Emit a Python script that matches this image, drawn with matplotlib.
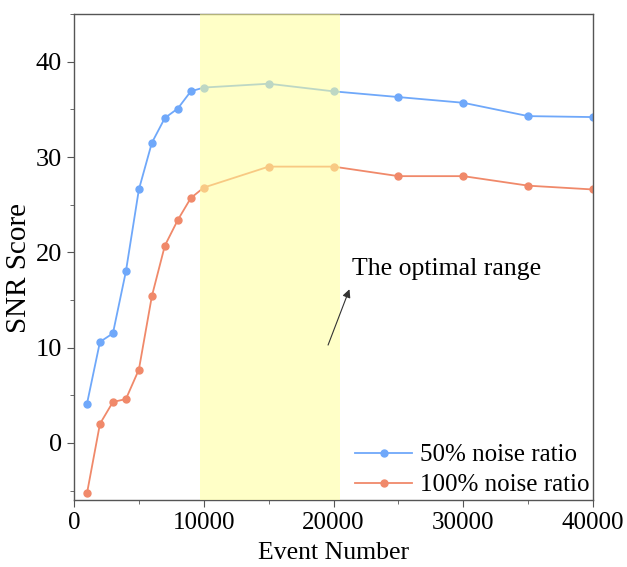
import matplotlib
matplotlib.use("Agg")
import matplotlib.pyplot as plt
from matplotlib.ticker import MultipleLocator

plt.rcParams['font.family'] = ['Liberation Serif', 'DejaVu Serif']

# Event counts and SNR scores
events = [1000, 2000, 3000, 4000, 5000, 6000, 7000, 8000, 9000,
          10000, 15000, 20000, 25000, 30000, 35000, 40000]
snr_50 = [4.1, 10.6, 11.5, 18.0, 26.6, 31.5, 34.1, 35.1, 36.9,
          37.3, 37.7, 36.9, 36.3, 35.7, 34.3, 34.2]
snr_100 = [-5.3, 2.0, 4.3, 4.6, 7.7, 15.4, 20.7, 23.4, 25.7,
           26.8, 29.0, 29.0, 28.0, 28.0, 27.0, 26.6]
labels = ['50% noise ratio', '100% noise ratio']
optimal = (9700, 20500)

fig = plt.figure(figsize=(6.27, 5.67), dpi=100)
ax = fig.add_axes([0.118, 0.118, 0.828, 0.857])

ax.plot(events, snr_50, color='#6fa8fa', marker='o', markersize=5,
        linewidth=1.3, label=labels[0], zorder=2)
ax.plot(events, snr_100, color='#f0896a', marker='o', markersize=5,
        linewidth=1.3, label=labels[1], zorder=2)

# yellow band drawn over the lines, so markers inside look tinted
ax.axvspan(optimal[0], optimal[1], color='#ffff99', alpha=0.55, lw=0, zorder=3)

# arrow pointing at the text
ax.annotate('', xy=(21300, 16.4), xytext=(19500, 10.0),
            arrowprops=dict(arrowstyle='-|>', color='#333333', lw=0.8,
                            mutation_scale=12), zorder=4)
ax.text(21400, 18.3, 'The optimal range', fontsize=18.5, va='center', ha='left', zorder=4)

ax.set_xlim(0, 40000)
ax.set_ylim(-6, 45)
ax.xaxis.set_major_locator(MultipleLocator(10000))
ax.xaxis.set_minor_locator(MultipleLocator(5000))
ax.yaxis.set_major_locator(MultipleLocator(10))
ax.yaxis.set_minor_locator(MultipleLocator(5))
ax.tick_params(which='both', direction='out', top=False, right=False,
               color='#555555')
ax.tick_params(axis='x', labelsize=18)
ax.tick_params(axis='y', labelsize=19)
ax.tick_params(which='major', length=5)
ax.tick_params(which='minor', length=3)
for s in ax.spines.values():
    s.set_color('#555555')
    s.set_linewidth(1.0)

ax.set_xlabel('Event Number', fontsize=18.5, labelpad=6)
ax.set_ylabel('SNR Score', fontsize=21)
ax.yaxis.set_label_coords(-0.081, 0.477)

ax.legend(loc='lower right', frameon=False, fontsize=18, handlelength=2.3,
          borderaxespad=0.0, borderpad=0.15, labelspacing=0.3, handletextpad=0.3)

fig.savefig('out.png', dpi=100)
